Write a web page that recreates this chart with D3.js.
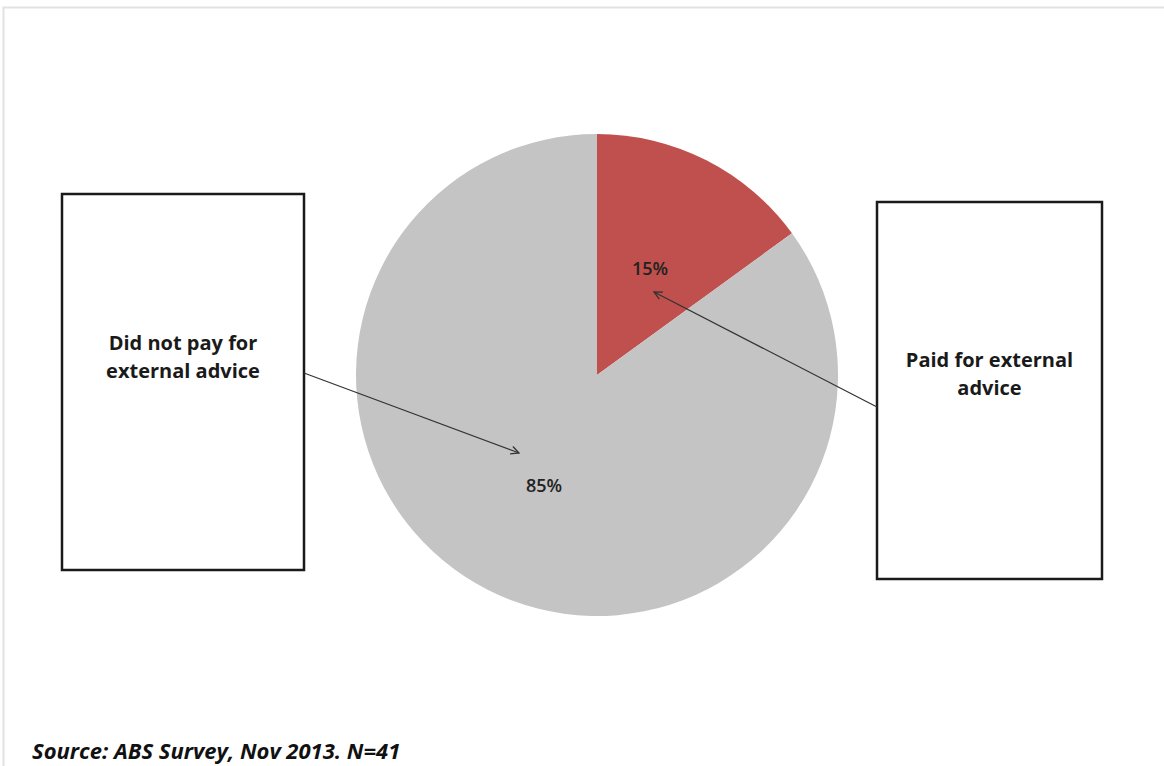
<!DOCTYPE html>
<html><head><meta charset="utf-8">
<script src="https://cdn.jsdelivr.net/npm/d3@7"></script>
<style>html,body{margin:0;padding:0;background:#fff;}svg{display:block;}</style>
</head><body>
<svg id="c" width="1164" height="766"></svg>
<script>
const categories = ["Paid for external advice", "Did not pay for external advice"];
const values = [15, 85];
const valueLabels = ["15%", "85%"];
const colors = ["#c0504d", "#c4c4c4"];
const sourceText = "Source: ABS Survey, Nov 2013. N=41";

const svg = d3.select("#c");
// frame
svg.append("rect").attr("x", 3.5).attr("y", 7.5).attr("width", 1170).attr("height", 800)
  .attr("fill", "none").attr("stroke", "#e2e2e2").attr("stroke-width", 2);

const defs = svg.append("defs");
defs.append("marker").attr("id", "arr").attr("viewBox", "0 0 10 10").attr("refX", 9).attr("refY", 5)
  .attr("markerWidth", 10).attr("markerHeight", 10).attr("markerUnits", "userSpaceOnUse").attr("orient", "auto")
  .append("path").attr("d", "M1,1 L9,5 L1,9").attr("fill", "none").attr("stroke", "#333").attr("stroke-width", 1.3);

const cx = 597, cy = 375, r = 241;
const pie = d3.pie().sort(null).value(d => d);
const arcs = pie(values);
const arc = d3.arc().innerRadius(0).outerRadius(r);
const g = svg.append("g").attr("transform", `translate(${cx},${cy})`);
g.selectAll("path").data(arcs).join("path").attr("d", arc).attr("fill", (d, i) => colors[i]);

// value labels
const labelPos = [[53, -100], [-53, 117]];
g.selectAll("text.v").data(arcs).join("text").attr("class", "v")
  .attr("x", (d, i) => labelPos[i][0]).attr("y", (d, i) => labelPos[i][1])
  .attr("text-anchor", "middle").attr("font-family", "Open Sans, sans-serif").attr("font-weight", 600)
  .attr("font-size", 18).attr("fill", "#222").text((d, i) => valueLabels[i]);

// callout boxes
const boxes = [
  {x: 877, y: 202, w: 225, h: 377, lines: ["Paid for external", "advice"], ty: 367, from: [877, 407], to: [654, 292]},
  {x: 62, y: 194, w: 242, h: 376, lines: ["Did not pay for", "external advice"], ty: 350, from: [304, 373], to: [519, 453]}
];
boxes.forEach(b => {
  svg.append("rect").attr("x", b.x).attr("y", b.y).attr("width", b.w).attr("height", b.h)
    .attr("fill", "#fff").attr("stroke", "#1a1a1a").attr("stroke-width", 2.5);
  const t = svg.append("text").attr("text-anchor", "middle").attr("font-family", "Open Sans, sans-serif")
    .attr("font-weight", 700).attr("font-size", 20).attr("fill", "#1a1a1a");
  b.lines.forEach((l, i) => t.append("tspan").attr("x", b.x + b.w / 2).attr("y", b.ty + i * 28).text(l));
  svg.append("line").attr("x1", b.from[0]).attr("y1", b.from[1]).attr("x2", b.to[0]).attr("y2", b.to[1])
    .attr("stroke", "#333").attr("stroke-width", 1.2).attr("marker-end", "url(#arr)");
});

svg.append("text").attr("x", 32).attr("y", 759).attr("font-family", "Open Sans, sans-serif")
  .attr("font-weight", 700).attr("font-style", "italic").attr("font-size", 22).attr("fill", "#111").text(sourceText);
</script>
</body></html>
